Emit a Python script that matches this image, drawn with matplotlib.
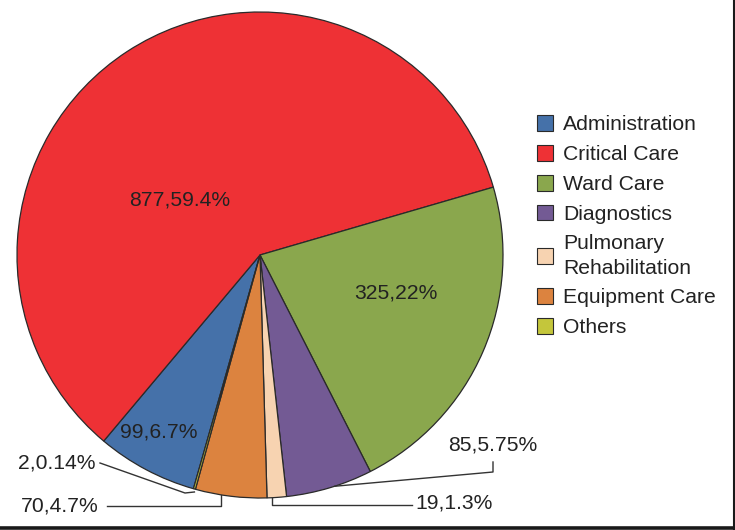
import numpy as np
import matplotlib.pyplot as plt
from matplotlib.patches import Patch

plt.rcParams["font.family"] = ["Liberation Sans", "DejaVu Sans"]

# --------------------------------------------------
# Data
# --------------------------------------------------
categories = ["Administration", "Critical Care", "Ward Care", "Diagnostics",
              "Pulmonary\nRehabilitation", "Equipment Care", "Others"]
counts = [99, 877, 325, 85, 19, 70, 2]
pct_labels = ["6.7%", "59.4%", "22%", "5.75%", "1.3%", "4.7%", "0.14%"]
colors = ["#4571a9", "#ee3135", "#8aa74d", "#735a94", "#f7d3b1", "#dc833f", "#c4c63b"]

W, H = 735, 530
fig = plt.figure(figsize=(W / 100, H / 100), dpi=100)
ax = fig.add_axes([0, 0, 1, 1])

cx, cy, r = 260, H - 255, 243


def Y(y):
    return H - y


wedges, _ = ax.pie(counts, colors=colors, startangle=254.1, counterclock=False,
                   center=(cx, cy), radius=r, frame=True,
                   wedgeprops=dict(edgecolor="#2a2a2a", linewidth=0.9))
ax.set_xlim(0, W)
ax.set_ylim(0, H)
ax.set_aspect("equal")
ax.axis("off")

labels = ["%d,%s" % (c, p) for c, p in zip(counts, pct_labels)]
fs = 15.2
tc = "#222222"

# --------------------------------------------------
# Labels inside the pie
# --------------------------------------------------
ax.text(180, Y(200), labels[1], ha="center", va="center", fontsize=fs, color=tc)
ax.text(396, Y(293), labels[2], ha="center", va="center", fontsize=fs, color=tc)
ax.text(159, Y(432), labels[0], ha="center", va="center", fontsize=fs, color=tc)


def edge_point(w, frac=0.5):
    a = np.deg2rad(w.theta1 + (w.theta2 - w.theta1) * frac)
    return cx + r * np.cos(a), cy + r * np.sin(a)


lc = "#333333"
lw = 1.0

# --------------------------------------------------
# Labels outside with leader lines
# --------------------------------------------------
# Others
px, py = edge_point(wedges[6])
ax.plot([100, 185, px], [Y(463), Y(493), py - 3], color=lc, lw=lw)
ax.text(96, Y(463), labels[6], ha="right", va="center", fontsize=fs, color=tc)

# Equipment Care
px, py = edge_point(wedges[5], 0.36)
ax.plot([107, px, px], [Y(506), Y(506), py], color=lc, lw=lw)
ax.text(99, Y(506), labels[5], ha="right", va="center", fontsize=fs, color=tc)

# Pulmonary Rehabilitation
px, py = edge_point(wedges[4], 0.25)
ax.plot([px, px, 412], [py, Y(505), Y(505)], color=lc, lw=lw)
ax.text(415, Y(503), labels[4], ha="left", va="center", fontsize=fs, color=tc)

# Diagnostics
px, py = edge_point(wedges[3], 0.56)
ax.plot([px, 493, 493], [py, Y(472), Y(462)], color=lc, lw=lw)
ax.text(448, Y(445), labels[3], ha="left", va="center", fontsize=fs, color=tc)

# --------------------------------------------------
# Legend
# --------------------------------------------------
handles = [Patch(facecolor=c, edgecolor="#2a2a2a", linewidth=0.8) for c in colors]
leg = ax.legend(handles, categories, loc="upper left", bbox_to_anchor=(537 / W, 1 - 115 / H),
                bbox_transform=fig.transFigure, frameon=False, fontsize=fs,
                handlelength=0.78, handleheight=0.78, handletextpad=0.45,
                labelspacing=0.5, borderpad=0, borderaxespad=0)
for t in leg.get_texts():
    t.set_color(tc)
    t.set_linespacing(1.35)

# border on right and bottom
fig.add_artist(plt.Line2D([733.5 / W, 733.5 / W], [0, 1], transform=fig.transFigure,
                          color="#1a1a1a", lw=1.5))
fig.add_artist(plt.Line2D([0, 1], [1.8 / H, 1.8 / H], transform=fig.transFigure,
                          color="#1a1a1a", lw=2.6))

fig.savefig("out.png", dpi=100)
